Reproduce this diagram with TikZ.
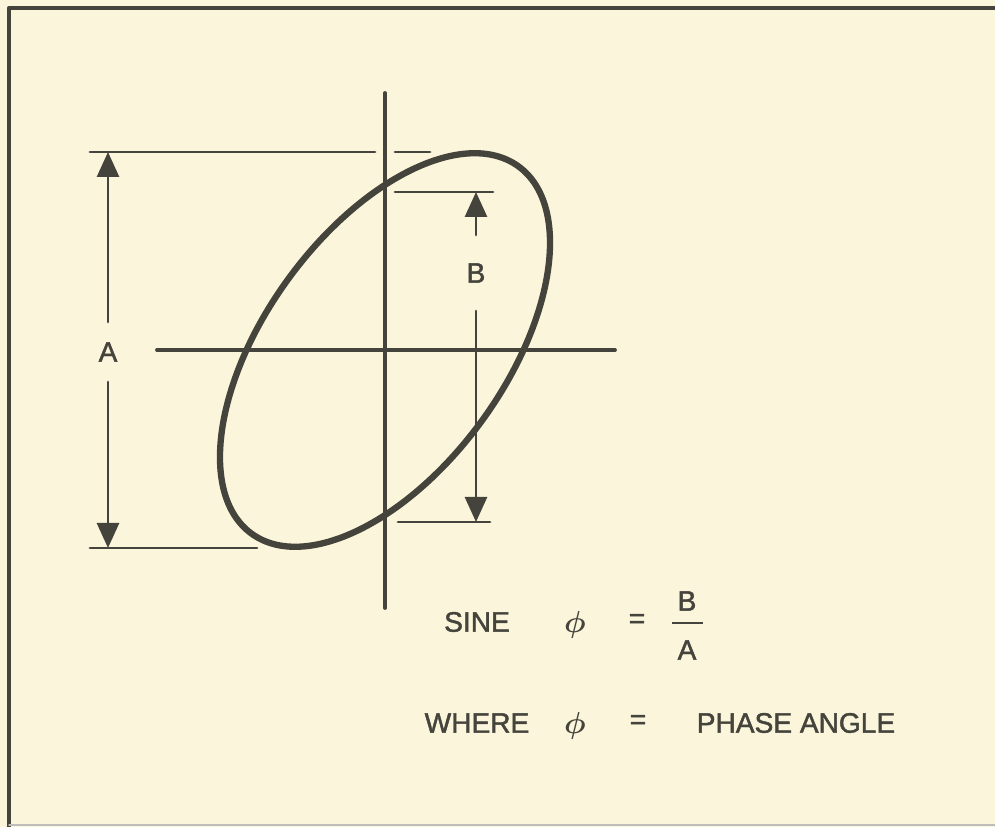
\documentclass[tikz,border=0pt]{standalone}
\usepackage{amsmath}
\usepackage{fontspec}
\setmainfont{Liberation Sans}[FakeBold=1.6]
\usetikzlibrary{arrows.meta}
\definecolor{PlotInk}{HTML}{45443C}
\definecolor{PaperCream}{HTML}{FBF5DB}

\begin{document}
\begin{tikzpicture}[x=0.2mm,y=-0.2mm,line cap=round,line join=round,
    font=\fontsize{16}{19}\selectfont,
    axisline/.style={PlotInk,line width=2.2pt},
    dimline/.style={PlotInk,line width=1.6pt},
    dimarrow/.style={PlotInk,line width=1.6pt,-{Triangle[length=5mm,width=4.4mm]}},
    lbl/.style={text=PlotInk,inner sep=1pt}]
  \useasboundingbox (0,0) rectangle (995,827);
  \fill[PaperCream] (0,0) rectangle (995,827);
  % frame (right side cut off)
  \draw[PlotInk,line width=2.4pt,line cap=butt] (995,8) -- (9,8) -- (9,827);
  \draw[PlotInk!35,line width=0.8pt] (9,825) -- (995,825);

  % axes
  \coordinate (ytop) at (385,93);
  \coordinate (ybot) at (385,608);
  \coordinate (xleft) at (157,350);
  \coordinate (xright) at (615,350);
  \draw[axisline] (ytop) -- (ybot);
  \draw[axisline] (xleft) -- (xright);

  % the trace
  \draw[PlotInk,line width=3.6pt,rotate around={54:(385,350)}] (385,350) ellipse [x radius=227,y radius=120];

  % dimension lines
  \coordinate (Atop) at (108,152);
  \coordinate (Abot) at (108,548);
  \coordinate (Btop) at (476,192);
  \coordinate (Bbot) at (476,522);
  \draw[dimline] (90,152) -- (375,152);
  \draw[dimline] (395,152) -- (430,152);
  \draw[dimline] (90,548) -- (257,548);
  \draw[dimline] (395,192) -- (493,192);
  \draw[dimline] (398,522) -- (490,522);

  \node[lbl,inner ysep=4mm] (Alabel) at (108,352) {A};
  \node[lbl,inner ysep=5.6mm] (Blabel) at (476,273) {B};
  \draw[dimarrow] (Alabel) -- (Atop);
  \draw[dimarrow] (Alabel) -- (Abot);
  \draw[dimarrow] (Blabel) -- (Btop);
  \draw[dimarrow] (Blabel) -- (Bbot);

  % formula
  \node[lbl] (sine) at (477,622) {SINE};
  \node[lbl] (phione) at (575,625) {$\boldsymbol{\phi}$};
  \node[lbl] (eqone) at (637,621) {=};
  \node[lbl] (fracB) at (687,601) {B};
  \node[lbl] (fracA) at (687,650) {A};
  \draw[PlotInk,line width=1.4pt,line cap=butt] (672,623) -- (703,623);
  \node[lbl] (where) at (477,723) {WHERE};
  \node[lbl] (phitwo) at (575,726) {$\boldsymbol{\phi}$};
  \node[lbl] (eqtwo) at (638,722) {=};
  \node[lbl] (phase) at (796,723) {PHASE ANGLE};
\end{tikzpicture}
\end{document}
